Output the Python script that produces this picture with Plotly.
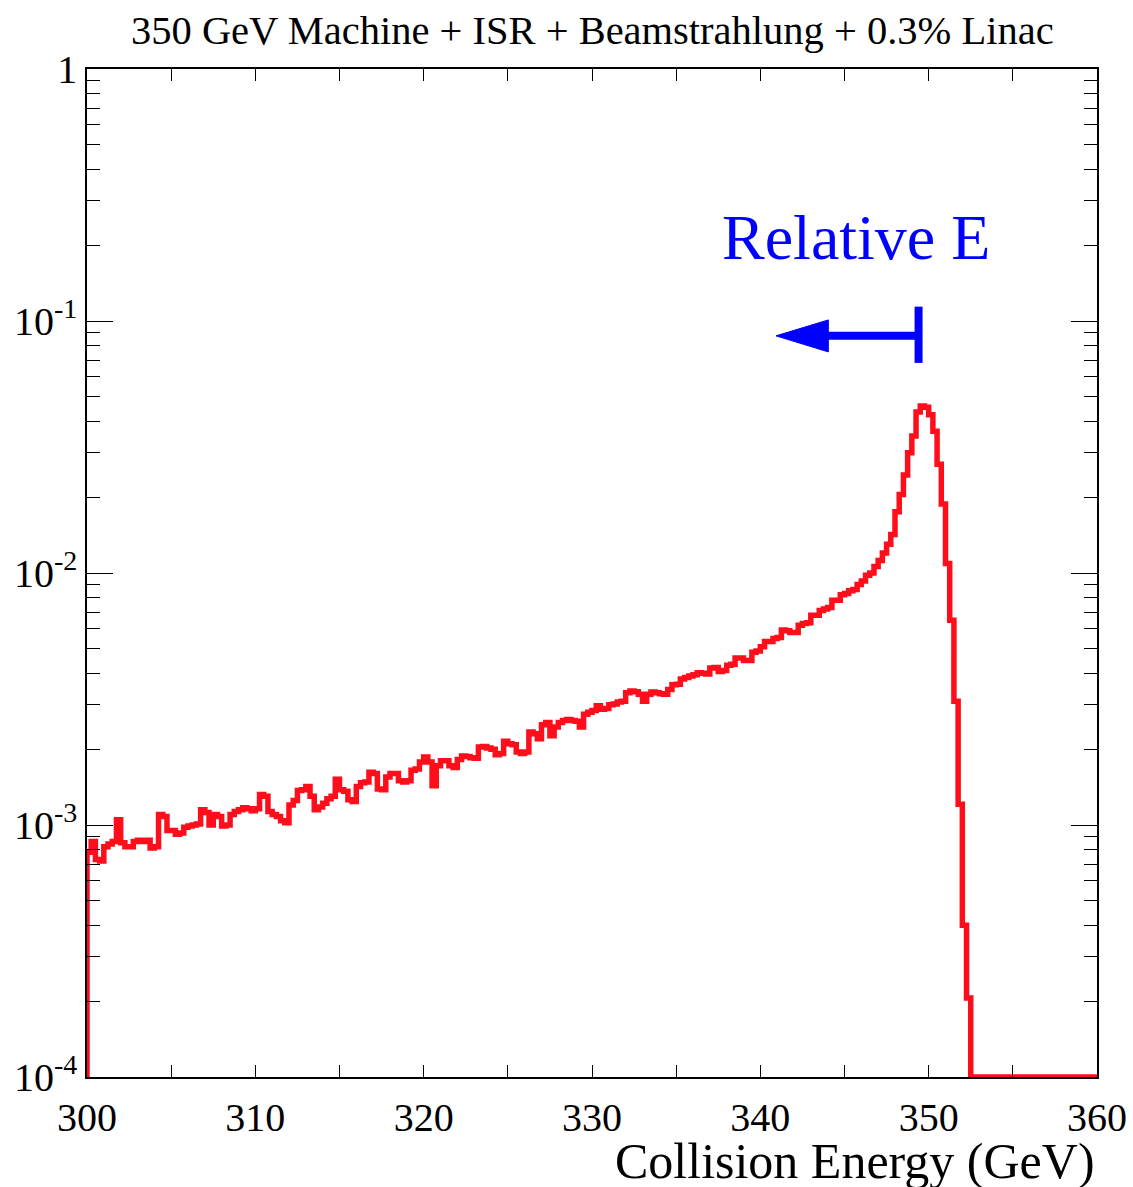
import numpy as np
import plotly.graph_objects as go

# ---- data ----
bin_low_edge = 300.0
bin_width = 0.25

counts = [
    7.8e-4, 8.6e-4, 7.3e-4, 7.2e-4, 8.2e-4, 8.4e-4, 8.6e-4, 1.05e-3, 8.5e-4, 8.2e-4,
    8.2e-4, 8.6e-4, 8.7e-4, 8.6e-4, 8.7e-4, 8.1e-4, 8.2e-4, 1.1e-3, 1.08e-3, 9.5e-4,
    9.5e-4, 9.2e-4, 9.3e-4, 9.8e-4, 9.9e-4, 1.0e-3, 1.01e-3, 1.15e-3, 1.12e-3, 1.0e-3,
    1.1e-3, 1.08e-3, 9.9e-4, 1.0e-3, 1.1e-3, 1.13e-3, 1.15e-3, 1.17e-3, 1.16e-3, 1.14e-3,
    1.16e-3, 1.32e-3, 1.3e-3, 1.13e-3, 1.1e-3, 1.08e-3, 1.04e-3, 1.02e-3, 1.2e-3, 1.25e-3,
    1.37e-3, 1.38e-3, 1.42e-3, 1.3e-3, 1.15e-3, 1.18e-3, 1.22e-3, 1.27e-3, 1.3e-3, 1.52e-3,
    1.38e-3, 1.36e-3, 1.26e-3, 1.24e-3, 1.42e-3, 1.47e-3, 1.48e-3, 1.62e-3, 1.6e-3, 1.39e-3,
    1.38e-3, 1.55e-3, 1.6e-3, 1.6e-3, 1.5e-3, 1.48e-3, 1.5e-3, 1.65e-3, 1.67e-3, 1.78e-3,
    1.86e-3, 1.78e-3, 1.43e-3, 1.72e-3, 1.8e-3, 1.8e-3, 1.72e-3, 1.69e-3, 1.82e-3, 1.88e-3,
    1.87e-3, 1.85e-3, 1.84e-3, 2.04e-3, 2.05e-3, 2.02e-3, 2.0e-3, 1.9e-3, 1.92e-3, 2.15e-3,
    2.1e-3, 2.08e-3, 1.95e-3, 1.92e-3, 1.95e-3, 2.34e-3, 2.3e-3, 2.2e-3, 2.5e-3, 2.55e-3,
    2.26e-3, 2.45e-3, 2.55e-3, 2.6e-3, 2.62e-3, 2.6e-3, 2.58e-3, 2.45e-3, 2.75e-3, 2.8e-3,
    2.85e-3, 2.97e-3, 2.88e-3, 2.9e-3, 3.0e-3, 3.02e-3, 3.08e-3, 3.1e-3, 3.35e-3, 3.4e-3,
    3.38e-3, 3.3e-3, 3.1e-3, 3.3e-3, 3.37e-3, 3.35e-3, 3.32e-3, 3.3e-3, 3.45e-3, 3.6e-3,
    3.62e-3, 3.8e-3, 3.85e-3, 3.9e-3, 3.95e-3, 4.02e-3, 4.0e-3, 3.97e-3, 4.2e-3, 4.22e-3,
    4.07e-3, 4.1e-3, 4.3e-3, 4.34e-3, 4.6e-3, 4.6e-3, 4.5e-3, 4.5e-3, 4.85e-3, 4.9e-3,
    5.1e-3, 5.35e-3, 5.35e-3, 5.5e-3, 5.55e-3, 5.94e-3, 5.9e-3, 5.8e-3, 5.8e-3, 6.2e-3,
    6.3e-3, 6.35e-3, 6.8e-3, 6.8e-3, 7.1e-3, 7.2e-3, 7.3e-3, 7.8e-3, 7.8e-3, 8.2e-3,
    8.3e-3, 8.5e-3, 8.6e-3, 9.0e-3, 9.3e-3, 9.8e-3, 1.0e-2, 1.06e-2, 1.12e-2, 1.2e-2,
    1.3e-2, 1.42e-2, 1.75e-2, 2.05e-2, 2.45e-2, 3.0e-2, 3.5e-2, 4.35e-2, 4.6e-2, 4.55e-2,
    4.25e-2, 3.65e-2, 2.7e-2, 1.88e-2, 1.09e-2, 6.5e-3, 3.1e-3, 1.21e-3, 4.0e-4, 2.06e-4,
] + [0.0] * 30

x_tick_vals = [300, 310, 320, 330, 340, 350, 360]
x_tick_text = ["300", "310", "320", "330", "340", "350", "360"]
y_tick_vals = [1e-4, 1e-3, 1e-2, 1e-1, 1]
y_tick_text = ["10<sup>-4</sup>", "10<sup>-3</sup>", "10<sup>-2</sup>", "10<sup>-1</sup>", "1"]

title_text = "350 GeV Machine + ISR + Beamstrahlung + 0.3% Linac"
x_title = "Collision Energy (GeV)"
label_text = "Relative E"

# ---- build step outline ----
y_floor = 1e-4
n = len(counts)
edges = bin_low_edge + bin_width * np.arange(n + 1)
vals = np.maximum(np.array(counts), y_floor)
xs = np.concatenate([[edges[0]], edges[:-1], [edges[-1]]])
ys = np.concatenate([[y_floor], vals, [vals[-1]]])

RED = "rgb(255,13,26)"
BLUE = "rgb(0,0,255)"
FONT = "Liberation Serif"

fig = go.Figure()
fig.add_trace(go.Scatter(x=xs, y=ys, mode="lines", line=dict(color=RED, width=5.5, shape="hv"),
                         hoverinfo="skip", showlegend=False))

# arrow (Relative E)
arrow_y = 0.0873
fig.add_trace(go.Scatter(x=[343.6, 349.40], y=[arrow_y, arrow_y], mode="lines",
                         line=dict(color=BLUE, width=8), showlegend=False, hoverinfo="skip"))
fig.add_trace(go.Scatter(x=[349.40, 349.40], y=[0.0682, 0.114], mode="lines",
                         line=dict(color=BLUE, width=8), showlegend=False, hoverinfo="skip"))
fig.add_trace(go.Scatter(x=[340.93, 344.04, 344.04, 340.93], y=[arrow_y, 0.101, 0.0754, arrow_y],
                         mode="lines", fill="toself", fillcolor=BLUE, line=dict(color=BLUE, width=1),
                         showlegend=False, hoverinfo="skip"))

fig.update_layout(
    width=1133, height=1187,
    margin=dict(l=87, r=36, t=69, b=110),
    paper_bgcolor="white", plot_bgcolor="white",
    font=dict(family=FONT, color="black", size=40),
    showlegend=False,
    annotations=[
        dict(text=title_text, xref="paper", yref="paper", x=0.5, y=1.0, yshift=39,
             xanchor="center", yanchor="middle", showarrow=False, font=dict(size=40.5)),
        dict(text=x_title, xref="paper", yref="paper", x=1.0, y=-0.0835,
             xanchor="right", yanchor="middle", showarrow=False, font=dict(size=50)),
        dict(text=label_text, xref="paper", yref="paper", x=(856 - 87) / 1010, y=(1077 - 238) / 1008,
             xanchor="center", yanchor="middle", showarrow=False, font=dict(size=64, color=BLUE)),
    ],
)

fig.update_xaxes(
    range=[300, 360], showgrid=False, zeroline=False, automargin=False,
    showline=True, linecolor="black", linewidth=1.5, mirror="ticks",
    ticks="inside", ticklen=12, tickwidth=1.2, tickcolor="black",
    tickvals=x_tick_vals, ticktext=x_tick_text, tickfont=dict(size=40),
    ticklabelstandoff=4,
    minor=dict(ticks="inside", ticklen=12, tickwidth=1.2, tickcolor="black", dtick=5, showgrid=False),
)
fig.update_yaxes(
    type="log", range=[-4, 0], showgrid=False, zeroline=False, automargin=False,
    showline=True, linecolor="black", linewidth=1.5, mirror="ticks",
    ticks="inside", ticklen=26, tickwidth=1.2, tickcolor="black",
    tickvals=y_tick_vals, ticktext=y_tick_text, tickfont=dict(size=40),
    minor=dict(ticks="inside", ticklen=13, tickwidth=1.2, tickcolor="black", dtick="D1", showgrid=False),
)

fig.write_html("out.html")
